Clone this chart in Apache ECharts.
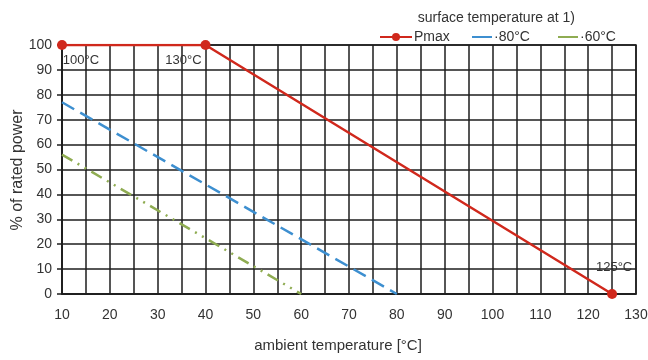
<!DOCTYPE html>
<html><head><meta charset="utf-8">
<script src="https://cdn.jsdelivr.net/npm/echarts@6/dist/echarts.min.js"></script>
<style>html,body{margin:0;padding:0;background:#fff}#c{width:648px;height:360px}</style>
</head><body><div id="c"></div>
<script>
const pmaxX = [10, 40, 125];
const pmaxY = [100, 100, 0];
const pmaxLabels = ['100°C', '130°C', '125°C'];
const s80X = [10, 80];
const s80Y = [77, 0];
const s60X = [10, 60];
const s60Y = [56, 0];
const xTicks = [10, 130, 10];
const yTicks = [0, 100, 10];

const chart = echarts.init(document.getElementById('c'));
const font = 'Liberation Sans, Arial, sans-serif';
const gridColor = '#1e1e1e';
const labelPos = [
  {position: 'bottom', distance: 4, offset: [19, 0]},
  {position: 'bottom', distance: 4, offset: [-22, 0]},
  {position: 'top', distance: 15, offset: [2, 0]}
];
const pmaxData = pmaxX.map((x, i) => ({
  value: [x, pmaxY[i]],
  label: Object.assign({show: true, formatter: pmaxLabels[i], color: '#333', fontSize: 13, fontFamily: font}, labelPos[i])
}));
const legTxt = {fontSize: 14, color: '#333', fontFamily: font, padding: [0, 0, 0, -3]};

chart.setOption({
  animation: false,
  grid: {left: 62, right: 12, top: 45, bottom: 66, show: true, borderColor: gridColor, borderWidth: 1.5,
    outerBoundsMode: 'none', containLabel: false},
  title: {text: 'surface temperature at 1)', right: 68, top: 6,
    textStyle: {fontSize: 14, fontWeight: 'normal', color: '#333', fontFamily: font}},
  legend: [
    {left: 374, top: 25, itemWidth: 32, itemHeight: 10, textStyle: legTxt,
      data: [{name: 'Pmax'}]},
    {left: 466, top: 25, itemWidth: 20, itemHeight: 10, textStyle: legTxt,
      data: [{name: '·80°C', itemStyle: {opacity: 0}, lineStyle: {type: 'solid'}}]},
    {left: 552, top: 25, itemWidth: 20, itemHeight: 10, textStyle: legTxt,
      data: [{name: '·60°C', itemStyle: {opacity: 0}, lineStyle: {type: 'solid'}}]}
  ],
  xAxis: {
    type: 'value', min: xTicks[0], max: xTicks[1], interval: xTicks[2],
    name: 'ambient temperature [°C]', nameLocation: 'middle', nameGap: 44,
    nameTextStyle: {fontSize: 15, color: '#333', fontFamily: font, padding: [0, 22, 0, 0]},
    axisLine: {show: true, lineStyle: {color: gridColor, width: 1.5}},
    axisTick: {show: false},
    axisLabel: {color: '#333', fontSize: 14, fontFamily: font, margin: 14},
    splitLine: {show: true, lineStyle: {color: gridColor, width: 1.5}},
    minorTick: {show: false, splitNumber: 2},
    minorSplitLine: {show: true, lineStyle: {color: gridColor, width: 1.5}}
  },
  yAxis: {
    type: 'value', min: yTicks[0], max: yTicks[1], interval: yTicks[2],
    name: '', 
    axisLine: {show: true, lineStyle: {color: gridColor, width: 1.5}},
    axisTick: {show: true, length: 5, lineStyle: {color: gridColor, width: 1.5}},
    axisLabel: {color: '#333', fontSize: 14, fontFamily: font, margin: 10},
    splitLine: {show: true, lineStyle: {color: gridColor, width: 1.5}}
  },
  graphic: [{
    type: 'text', x: 18, y: 170, rotation: Math.PI / 2,
    style: {text: '% of rated power', fontSize: 16, fill: '#333', fontFamily: font,
      align: 'center', verticalAlign: 'middle'}
  }],
  series: [
    {name: 'Pmax', type: 'line', data: pmaxData, symbol: 'circle', symbolSize: 10,
      itemStyle: {color: '#d0281c'}, lineStyle: {color: '#d0281c', width: 2.5}, z: 5},
    {name: '·80°C', type: 'line', data: s80X.map((x, i) => [x, s80Y[i]]), symbol: 'none',
      itemStyle: {color: '#3d8fd0'}, lineStyle: {color: '#3d8fd0', width: 2.5, type: [14, 7]}, z: 4},
    {name: '·60°C', type: 'line', data: s60X.map((x, i) => [x, s60Y[i]]), symbol: 'none',
      itemStyle: {color: '#8fac52'}, lineStyle: {color: '#8fac52', width: 2.5, type: [12, 6, 2, 6, 2, 6]}, z: 4}
  ]
});
</script></body></html>
